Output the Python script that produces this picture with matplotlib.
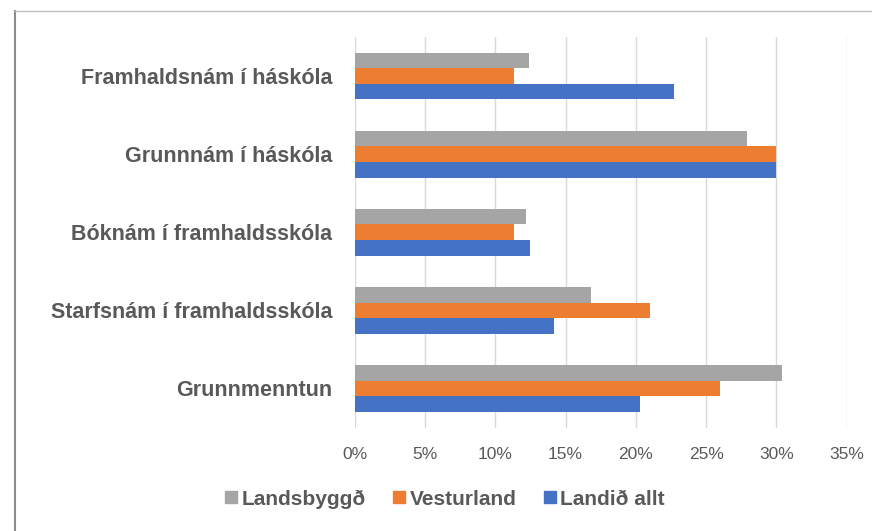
import matplotlib.pyplot as plt
import numpy as np
from matplotlib.lines import Line2D

categories = ['Framhaldsnám í háskóla', 'Grunnnám í háskóla', 'Bóknám í framhaldsskóla',
              'Starfsnám í framhaldsskóla', 'Grunnmenntun']
landsbyggd = [12.4, 27.9, 12.2, 16.8, 30.4]
vesturland = [11.3, 30.0, 11.3, 21.0, 26.0]
landid_allt = [22.7, 30.0, 12.5, 14.2, 20.3]
series_names = ['Landsbyggð', 'Vesturland', 'Landið allt']
colors = ['#A5A5A5', '#ED7D31', '#4472C4']
xticks = [0, 5, 10, 15, 20, 25, 30, 35]

plt.rcParams['font.family'] = ['Liberation Sans', 'DejaVu Sans']
txt = '#595959'

fig = plt.figure(figsize=(8.72, 5.31), dpi=100)
ax = fig.add_axes([0.4068, 0.1949, 0.5642, 0.7354])

y = np.arange(len(categories))
h = 0.2
for off, vals, c, name in zip([-h, 0, h], [landsbyggd, vesturland, landid_allt], colors, series_names):
    ax.barh(y + off, vals, height=h, color=c, label=name, zorder=3)

ax.set_ylim(len(categories) - 0.5, -0.5)
ax.set_xlim(0, 35)
ax.set_xticks(xticks)
ax.set_xticklabels([f'{t}%' for t in xticks], color=txt, fontsize=12.5)
ax.set_yticks(y)
ax.set_yticklabels(categories, color=txt, fontsize=15.5, fontweight='bold')
ax.tick_params(axis='x', length=0, pad=14)
ax.tick_params(axis='y', length=0, pad=16)
ax.grid(axis='x', color='#D9D9D9', linewidth=1, zorder=0)
for s in ax.spines.values():
    s.set_visible(False)

handles = [Line2D([], [], marker='s', linestyle='', markersize=8, color=c) for c in colors]
leg = fig.legend(handles, series_names, loc='center', bbox_to_anchor=(0.508, 0.06), ncol=3,
                 frameon=False, handletextpad=0.0, columnspacing=1.1, handlelength=1.0,
                 prop={'size': 15, 'weight': 'bold'})
for t in leg.get_texts():
    t.set_color(txt)

# outer chart frame (left and top edges visible)
fig.add_artist(Line2D([15 / 872, 15 / 872], [0, 1 - 10.5 / 531], color='#8C8C8C', linewidth=1.5,
                      transform=fig.transFigure))
fig.add_artist(Line2D([15 / 872, 1], [1 - 10.5 / 531, 1 - 10.5 / 531], color='#BFBFBF', linewidth=1,
                      transform=fig.transFigure))

fig.savefig('out.png', dpi=100)
